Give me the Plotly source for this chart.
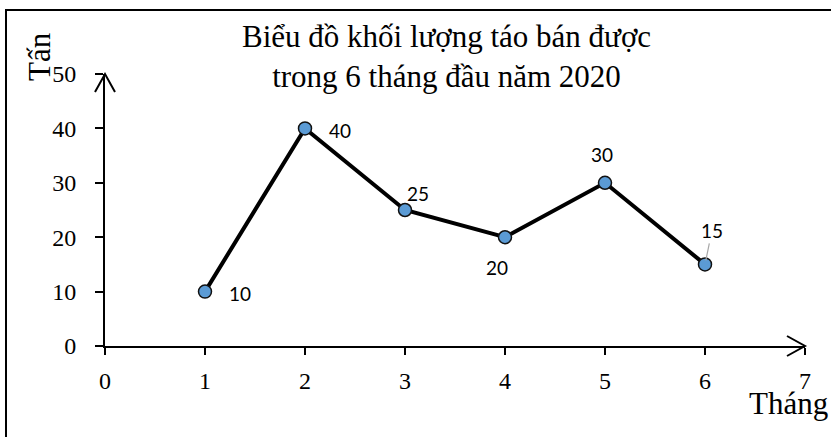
import plotly.graph_objects as go

# ---- data ----
months = [1, 2, 3, 4, 5, 6]
tons = [10, 40, 25, 20, 30, 15]
x_ticks = [0, 1, 2, 3, 4, 5, 6, 7]
y_ticks = [0, 10, 20, 30, 40, 50]
title_lines = ["Biểu đồ khối lượng táo bán được", "trong 6 tháng đầu năm 2020"]
x_title = "Tháng"
y_title = "Tấn"

# ---- styles ----
SERIF = "Liberation Serif"
SANS = "Lato"
label_shift = [(35, -2), (35, -2), (13, 17), (-8, -30), (-3, 28), (7, 34)]

W, H = 831, 437
L, R, T, B = 105, 26, 74, 91
pw, ph = W - L - R, H - T - B


def px2paper_x(px):
    return (px - L) / pw


def px2paper_y(py):
    return (H - B - py) / ph


fig = go.Figure()
fig.add_trace(go.Scatter(
    x=months, y=tons, mode="lines+markers",
    line=dict(color="black", width=4),
    marker=dict(size=13, color="#5B9BD5", line=dict(color="#111111", width=1.5)),
    cliponaxis=False, hoverinfo="skip", showlegend=False,
))

annotations = []
for i, (m, t) in enumerate(zip(months, tons)):
    dx, dy = label_shift[i]
    if i == len(months) - 1:
        annotations.append(dict(
            x=m, y=t, xref="x", yref="y", text=str(t), showarrow=True,
            ax=dx, ay=-dy, axref="pixel", ayref="pixel",
            arrowhead=0, arrowwidth=1.2, arrowcolor="#A6A6A6", standoff=4,
            font=dict(family=SANS, size=19, color="black"),
        ))
    else:
        annotations.append(dict(
            x=m, y=t, xref="x", yref="y", text=str(t), showarrow=False,
            xshift=dx, yshift=dy,
            font=dict(family=SANS, size=19, color="black"),
        ))

annotations.append(dict(
    x=px2paper_x(446), y=px2paper_y(56), xref="paper", yref="paper",
    text="<br>".join(title_lines), showarrow=False, xanchor="center", yanchor="middle",
    font=dict(family=SERIF, size=31, color="black"),
))
annotations.append(dict(
    x=px2paper_x(39), y=px2paper_y(57), xref="paper", yref="paper",
    text=y_title, textangle=-90, showarrow=False, xanchor="center", yanchor="middle",
    font=dict(family=SERIF, size=31, color="black"),
))
annotations.append(dict(
    x=px2paper_x(788), y=px2paper_y(403), xref="paper", yref="paper",
    text=x_title, showarrow=False, xanchor="center", yanchor="middle",
    font=dict(family=SERIF, size=31, color="black"),
))

shapes = [
    # outer border
    dict(type="rect", xref="paper", yref="paper",
         x0=px2paper_x(6), x1=px2paper_x(845), y0=px2paper_y(460), y1=px2paper_y(10),
         line=dict(color="black", width=2), layer="above"),
    # y axis arrow head (at top end of the y axis)
    dict(type="path", xref="paper", yref="paper", xsizemode="pixel", ysizemode="pixel",
         xanchor=0, yanchor=1, path="M -10,-18 L 0,0 L 10,-18",
         line=dict(color="black", width=2)),
    # x axis arrow head (at right end of the x axis)
    dict(type="path", xref="paper", yref="paper", xsizemode="pixel", ysizemode="pixel",
         xanchor=1, yanchor=0, path="M -18,10 L 0,0 L -18,-10",
         line=dict(color="black", width=2)),
]

fig.update_layout(
    width=W, height=H,
    margin=dict(l=L, r=R, t=T, b=B),
    paper_bgcolor="white", plot_bgcolor="white",
    annotations=annotations, shapes=shapes,
    xaxis=dict(range=[0, 7], tickvals=x_ticks, ticktext=[str(v) for v in x_ticks],
               showgrid=False, zeroline=False, showline=True, linecolor="black", linewidth=2,
               ticks="outside", ticklen=7, tickwidth=2, tickcolor="black",
               tickfont=dict(family=SERIF, size=24, color="black"), ticklabelstandoff=5),
    yaxis=dict(range=[0, 50], tickvals=y_ticks, ticktext=[str(v) for v in y_ticks],
               showgrid=False, zeroline=False, showline=True, linecolor="black", linewidth=2,
               ticks="outside", ticklen=8, tickwidth=2, tickcolor="black",
               tickfont=dict(family=SERIF, size=24, color="black"), ticklabelstandoff=14),
)

fig.write_html("out.html")
